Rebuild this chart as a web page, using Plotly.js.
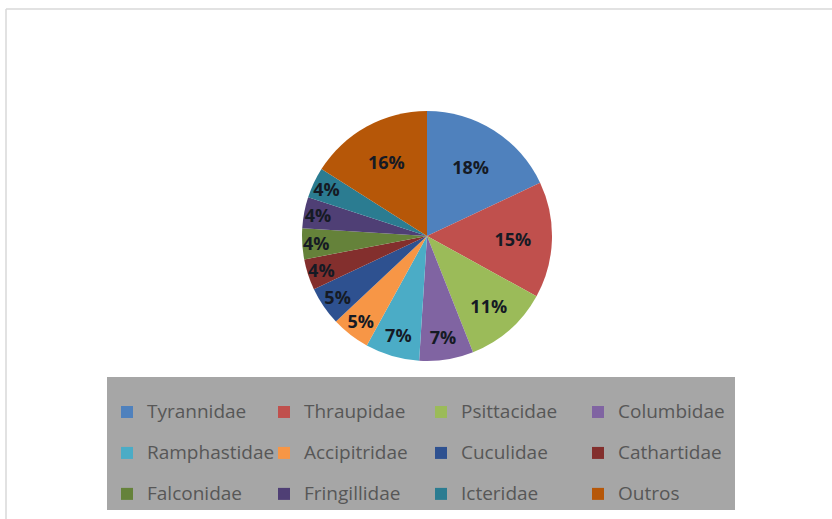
<!DOCTYPE html>
<html><head><meta charset="utf-8">
<script src="https://cdn.plot.ly/plotly-3.0.1.min.js"></script>
<style>html,body{margin:0;padding:0;background:#fff}</style>
</head><body><div id="chart" style="width:832px;height:519px"></div>
<script>
const families = ["Tyrannidae","Thraupidae","Psittacidae","Columbidae","Ramphastidae","Accipitridae","Cuculidae","Cathartidae","Falconidae","Fringillidae","Icteridae","Outros"];
const shares = [18,15,11,7,7,5,5,4,4,4,4,16];
const colors = ["#4f81bd","#c0504d","#9bbb59","#8064a2","#4bacc6","#f79646","#2e5190","#832f2d","#65823a","#4f3f75","#2b7c91","#b65708"];

// the blank first line only gives each legend row the reference's spacing
const legendLabels = families.map(f => ' <br><span style="font-size:19px">' + f + '</span>');

const L = 107, W = 630, T = 9, H = 501;
const px = x => (x - L) / W;
const py = y => (T + H - y) / H;

const trace = {
  type: 'pie',
  labels: legendLabels,
  values: shares,
  sort: false,
  direction: 'clockwise',
  rotation: 0,
  marker: {colors: colors, line: {width: 0}},
  textinfo: 'percent',
  texttemplate: '%{percent:.0%}',
  textposition: 'inside',
  insidetextorientation: 'horizontal',
  insidetextfont: {family: 'Open Sans, sans-serif', size: 18, color: '#151a24', weight: 'bold'},
  hoverinfo: 'percent',
  domain: {x: [px(302), px(552)], y: [py(361), py(111)]}
};

const layout = {
  width: 832, height: 519,
  margin: {l: L, r: 832 - L - W, t: T, b: 519 - T - H, autoexpand: false},
  paper_bgcolor: '#ffffff',
  plot_bgcolor: '#ffffff',
  showlegend: true,
  uniformtext: {minsize: 18, mode: 'show'},
  legend: {
    orientation: 'h',
    x: 0, xanchor: 'left',
    y: 0, yanchor: 'bottom',
    bgcolor: '#a6a6a6',
    borderwidth: 0,
    valign: 'bottom',
    font: {family: 'Open Sans, sans-serif', size: 14.6, color: '#575757'},
    entrywidth: 112, entrywidthmode: 'pixels',
    itemclick: false, itemdoubleclick: false,
    traceorder: 'normal'
  },
  shapes: [
    {type: 'line', xref: 'paper', yref: 'paper', x0: px(6), x1: px(832), y0: py(9), y1: py(9), line: {color: '#d9d9d9', width: 1.5}},
    {type: 'line', xref: 'paper', yref: 'paper', x0: px(6), x1: px(6), y0: py(9), y1: py(519), line: {color: '#d9d9d9', width: 1.5}}
  ]
};

Plotly.newPlot('chart', [trace], layout, {displayModeBar: false, staticPlot: true});
</script></body></html>
